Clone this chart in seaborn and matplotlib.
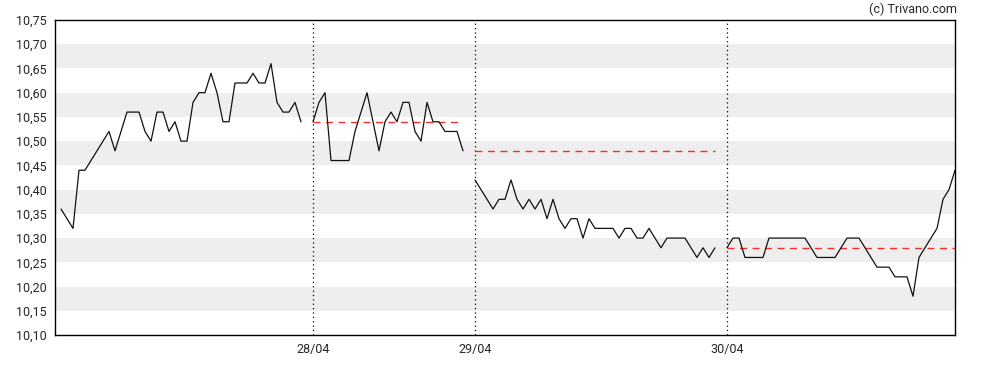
import numpy as np
import pandas as pd
import matplotlib
matplotlib.use("Agg")
import matplotlib.pyplot as plt
import seaborn as sns

# Intraday prices per session (index based x-axis, one empty slot between days)
day1 = [10.36, 10.34, 10.32, 10.44, 10.44, 10.46, 10.48, 10.50, 10.52, 10.48,
        10.52, 10.56, 10.56, 10.56, 10.52, 10.50, 10.56, 10.56, 10.52, 10.54,
        10.50, 10.50, 10.58, 10.60, 10.60, 10.64, 10.60, 10.54, 10.54, 10.62,
        10.62, 10.62, 10.64, 10.62, 10.62, 10.66, 10.58, 10.56, 10.56, 10.58,
        10.54]
day2 = [10.54, 10.58, 10.60, 10.46, 10.46, 10.46, 10.46, 10.52, 10.56, 10.60,
        10.54, 10.48, 10.54, 10.56, 10.54, 10.58, 10.58, 10.52, 10.50, 10.58,
        10.54, 10.54, 10.52, 10.52, 10.52, 10.48]
day3 = [10.42, 10.40, 10.38, 10.36, 10.38, 10.38, 10.42, 10.38, 10.36, 10.38,
        10.36, 10.38, 10.34, 10.38, 10.34, 10.32, 10.34, 10.34, 10.30, 10.34,
        10.32, 10.32, 10.32, 10.32, 10.30, 10.32, 10.32, 10.30, 10.30, 10.32,
        10.30, 10.28, 10.30, 10.30, 10.30, 10.30, 10.28, 10.26, 10.28, 10.26,
        10.28]
day4 = [10.28, 10.30, 10.30, 10.26, 10.26, 10.26, 10.26, 10.30, 10.30, 10.30,
        10.30, 10.30, 10.30, 10.30, 10.28, 10.26, 10.26, 10.26, 10.26, 10.28,
        10.30, 10.30, 10.30, 10.28, 10.26, 10.24, 10.24, 10.24, 10.22, 10.22,
        10.22, 10.18, 10.26, 10.28, 10.30, 10.32, 10.38, 10.40, 10.44]
days = [day1, day2, day3, day4]
day_labels = ["28/04", "29/04", "30/04"]
prev_close = [10.54, 10.48, 10.28]  # reference level for days 2-4

y_ticks = np.round(np.arange(10.10, 10.751, 0.05), 2)

# build long table with positional index
rows = []
pos = 0
starts = []
for d, vals in enumerate(days):
    starts.append(pos)
    for v in vals:
        rows.append({"pos": pos, "price": v, "day": d})
        pos += 1
    pos += 1  # gap slot between sessions
df = pd.DataFrame(rows)
last_pos = df["pos"].max()

sns.set_style("white")
plt.rcParams["font.family"] = ["Roboto", "DejaVu Sans"]

fig = plt.figure(figsize=(9.88, 3.70), dpi=100)
ax = fig.add_axes([55 / 988, 35 / 370, 900 / 988, 315 / 370])

# alternating gray bands
for lo in [10.15, 10.25, 10.35, 10.45, 10.55, 10.65]:
    ax.axhspan(lo, lo + 0.05, color="#eeeeee", lw=0, zorder=0)

for d in range(len(days)):
    sub = df[df["day"] == d]
    sns.lineplot(data=sub, x="pos", y="price", ax=ax, color="#111111",
                 lw=0.9, zorder=3, legend=False)

for i, lvl in enumerate(prev_close):
    sub = df[df["day"] == i + 1]
    ax.plot([sub["pos"].min(), sub["pos"].max()], [lvl, lvl], color="#ff2a2a",
            lw=1.0, ls=(0, (5, 4)), zorder=2)

tick_pos = starts[1:]
for p in tick_pos:
    ax.axvline(p, color="black", lw=0.9, ls=(0, (1, 2.5)), zorder=1)

ax.set_xlim(-1, last_pos)
ax.set_ylim(10.10, 10.75)
ax.set_yticks(y_ticks)
ax.set_yticklabels([f"{v:.2f}".replace(".", ",") for v in y_ticks], fontsize=9)
ax.set_xticks(tick_pos)
ax.set_xticklabels(day_labels, fontsize=9)
ax.tick_params(axis="both", direction="out", length=4, width=0.8, color="black", pad=2)
ax.set_xlabel("")
ax.set_ylabel("")
for s in ax.spines.values():
    s.set_color("black")
    s.set_linewidth(1.0)

fig.text(957 / 988, 1 - 9 / 370, "(c) Trivano.com", ha="right", va="center", fontsize=9)

fig.savefig("out.png", dpi=100)
